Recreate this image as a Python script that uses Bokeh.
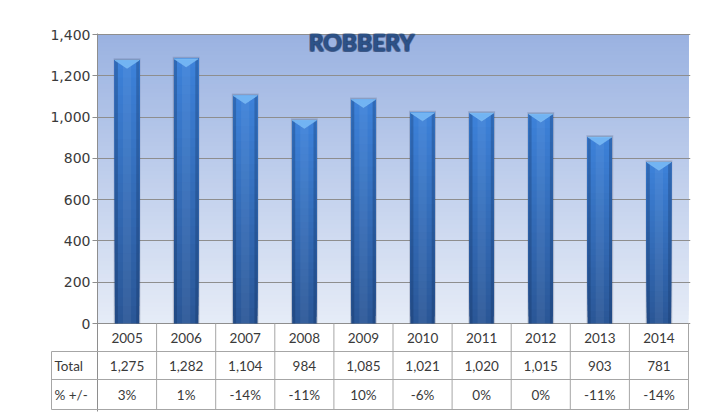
import numpy as np
from bokeh.plotting import figure
from bokeh.models import Range1d, FixedTicker, NumeralTickFormatter, Label
from bokeh.embed import file_html
from bokeh.resources import INLINE
from bokeh.core.properties import value

# ---------------- data ----------------
years = ["2005", "2006", "2007", "2008", "2009", "2010", "2011", "2012", "2013", "2014"]
totals = [1275, 1282, 1104, 984, 1085, 1021, 1020, 1015, 903, 781]
pct_change = ["3%", "1%", "-14%", "-11%", "10%", "-6%", "0%", "0%", "-11%", "-14%"]
total_labels = ["1,275", "1,282", "1,104", "984", "1,085", "1,021", "1,020", "1,015", "903", "781"]
y_ticks = [0, 200, 400, 600, 800, 1000, 1200, 1400]
row_labels = ["Total", "% +/-"]
title_text = "ROBBERY"

# ---------------- geometry helpers ----------------
n = len(years)
col_px = 59.1                 # px per category column
upp = 1400 / 289.0            # data units per pixel on the value axis
ymax = y_ticks[-1]
W, H = 700, 415

def hex2rgb(h):
    h = h.lstrip("#")
    return tuple(int(h[i:i + 2], 16) for i in (0, 2, 4))

def mix(c1, c2, f):
    a, b = hex2rgb(c1), hex2rgb(c2)
    return "#%02x%02x%02x" % tuple(int(round(a[i] + (b[i] - a[i]) * f)) for i in range(3))

FONT = "Lato"
GRID = "#8e8e8e"
TABLE_LINE = "#a6a6a6"
TEXT = "#3a3a3a"

# table row boundaries (below the zero line), in value units
r0, r1, r2, r3 = 0.0, -28 * upp, -56 * upp, -86 * upp
lab_left = -46 / col_px

p = figure(width=W, height=H,
           x_range=Range1d(0, n + 2 / col_px),
           y_range=Range1d(-88 * upp, ymax + upp),
           min_border_left=97, min_border_right=W - 690, min_border_top=33, min_border_bottom=H - 411,
           x_axis_location=None, output_backend="svg", toolbar_location=None)
p.outline_line_color = None
p.background_fill_color = "white"
p.border_fill_color = "white"
p.xgrid.visible = False

p.yaxis.ticker = FixedTicker(ticks=y_ticks)
p.yaxis.formatter = NumeralTickFormatter(format="0,0")
p.yaxis.axis_line_color = GRID
p.yaxis.major_tick_line_color = GRID
p.yaxis.minor_tick_line_color = None
p.yaxis.major_tick_out = 5
p.yaxis.major_tick_in = 0
p.yaxis.major_label_standoff = 2
p.yaxis.major_label_text_font = "DejaVu Sans"
p.yaxis.major_label_text_font_size = "14px"
p.yaxis.major_label_text_color = TEXT

p.ygrid.ticker = FixedTicker(ticks=y_ticks)
p.ygrid.grid_line_color = GRID
p.ygrid.grid_line_width = 1

# background gradient of the plot area (value range 0..ymax), drawn bottom-up without seams
NB = 70
edges = np.linspace(0, ymax, NB + 1)[:-1]
bg_cols = [mix("#e6ecf7", "#9ab2e1", (i + 0.5) / NB) for i in range(NB)]
p.quad(left=0, right=n, bottom=edges, top=ymax,
       fill_color=bg_cols, line_color=None, level="image")

xs = np.arange(n) + 0.5
tv = np.array(totals, dtype=float)
bw = 0.41

# soft shadow around bars
p.vbar(x=xs, width=bw + 0.045, bottom=0, top=tv + 2 * upp,
       fill_color="#1a2d50", fill_alpha=0.14, line_color=None)
p.vbar(x=xs, width=bw + 0.022, bottom=0, top=tv + upp,
       fill_color="#1a2d50", fill_alpha=0.18, line_color=None)

# vertical gradient body of bars (each slice runs to the bar top, drawn bottom-up)
NS = 30
sx, sb, st, sc = [], [], [], []
for k in range(NS):
    for i, v in enumerate(totals):
        sx.append(xs[i])
        sb.append(v * k / NS)
        st.append(v)
        sc.append(mix("#2a5696", "#3d82da", (k + 0.5) / NS))
p.vbar(x=sx, width=bw, bottom=sb, top=st, fill_color=sc, line_color=None)

# horizontal shading: darker edges, lighter centre
p.vbar(x=xs - bw / 2 + 0.025, width=0.05, bottom=0, top=tv,
       fill_color="#0f2a55", fill_alpha=0.28, line_color=None)
p.vbar(x=xs + bw / 2 - 0.025, width=0.05, bottom=0, top=tv,
       fill_color="#0f2a55", fill_alpha=0.28, line_color=None)
p.vbar(x=xs, width=0.14, bottom=0, top=tv,
       fill_color="white", fill_alpha=0.06, line_color=None)

# bevelled cap on top of each bar
cap_depth = 8 * upp
p.patches(xs=[[x - bw / 2, x + bw / 2, x] for x in xs],
          ys=[[v, v, v - cap_depth] for v in tv],
          fill_color="#72b4f3", line_color="#8cc6f7", line_width=0.5)

# ---------------- data table below the zero line ----------------
p.segment(x0=[lab_left] * 3, x1=[n] * 3, y0=[r1, r2, r3], y1=[r1, r2, r3],
          line_color=TABLE_LINE, line_width=1, level="overlay")
p.segment(x0=list(range(1, n + 1)), x1=list(range(1, n + 1)),
          y0=[r3] * n, y1=[r0] * n, line_color=TABLE_LINE, line_width=1, level="overlay")
p.segment(x0=[lab_left], x1=[lab_left], y0=[r3], y1=[r1],
          line_color=TABLE_LINE, line_width=1, level="overlay")

mid1, mid2, mid3 = (r0 + r1) / 2, (r1 + r2) / 2, (r2 + r3) / 2
tstyle = dict(text_baseline="middle", text_font=value(FONT), text_font_size="13.5px",
              text_color=TEXT, level="overlay")
p.text(x=xs, y=[mid1] * n, text=years, text_align="center", **tstyle)
p.text(x=xs, y=[mid2] * n, text=total_labels, text_align="center", **tstyle)
p.text(x=xs, y=[mid3] * n, text=pct_change, text_align="center", **tstyle)
p.text(x=[lab_left + 0.05] * 2, y=[mid2, mid3], text=row_labels, text_align="left", **tstyle)

# ---------------- chart title ----------------
title_x = (361 - 97) / col_px
title_y = ymax - 7.5 * upp
for dx, dy in [(-1, 0), (1, 0), (0, -1), (0, 1), (-1, -1), (1, 1), (1, -1), (-1, 1)]:
    p.add_layout(Label(x=title_x, y=title_y, x_offset=dx, y_offset=dy, text=title_text,
                       text_align="center", text_baseline="middle",
                       text_font="Lato", text_font_style="bold", text_font_size="23px",
                       text_color="#1b3562", text_alpha=0.35))
p.add_layout(Label(x=title_x, y=title_y, text=title_text,
                   text_align="center", text_baseline="middle",
                   text_font="Lato", text_font_style="bold", text_font_size="23px",
                   text_color="#2c5288"))

open("out.html", "w").write(file_html(p, INLINE))
